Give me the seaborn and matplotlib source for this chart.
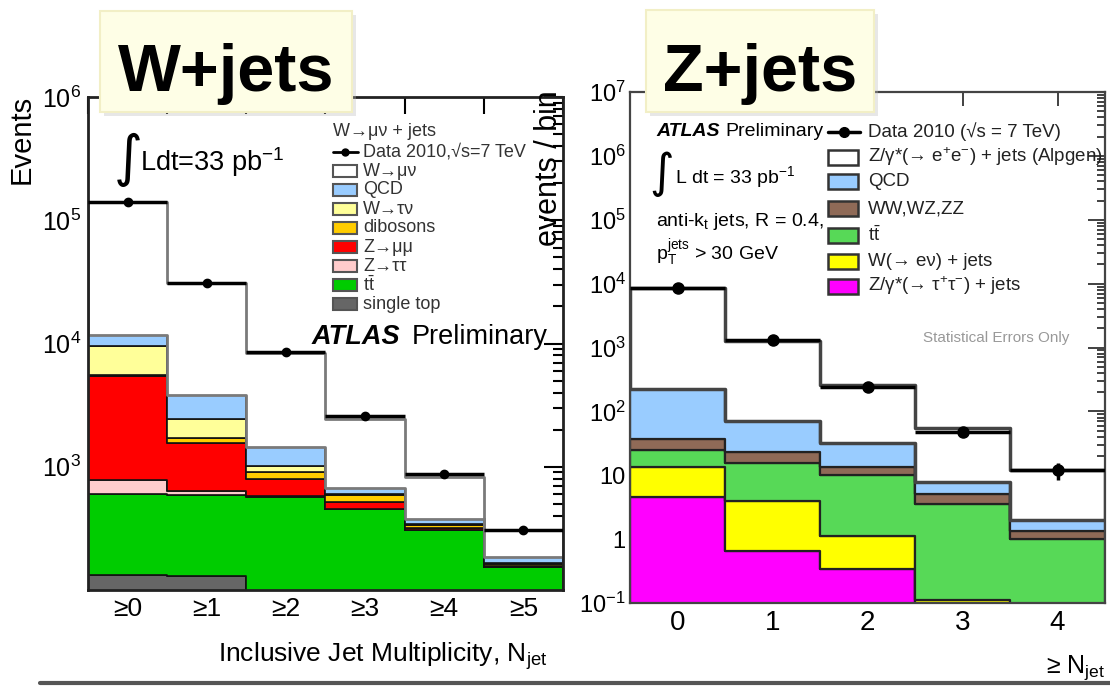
import numpy as np
import pandas as pd
import matplotlib
matplotlib.use("Agg")
import matplotlib.pyplot as plt
import seaborn as sns
from matplotlib.patches import Rectangle
from matplotlib.lines import Line2D
from matplotlib.ticker import FixedLocator, FixedFormatter, NullFormatter, LogLocator

# ---------------- W+jets : inclusive jet multiplicity ----------------
w_bins = [0, 1, 2, 3, 4, 5]
w_tick_labels = ["≥0", "≥1", "≥2", "≥3", "≥4", "≥5"]
w_data = [141000, 31000, 8500, 2560, 870, 305]
w_mu_nu = [128200, 27200, 6850, 1780, 452, 118]
w_qcd = [2300, 1350, 430, 70, 33, 20]
w_tau_nu = [3900, 750, 110, 10, 8, 4]
w_dibosons = [100, 150, 110, 75, 17, 5]
w_z_mumu = [4720, 915, 225, 57, 11, 2]
w_z_tautau = [180, 45, 10, 3, 2, 1]
w_ttbar = [467, 460, 565, 455, 307, 154]
w_single_top = [133, 130, 0, 0, 0, 0]
w_keys = ["wmunu", "qcd", "wtaunu", "diboson", "zmumu", "ztautau", "ttbar", "stop"]
w_labels = ["W→μν", "QCD", "W→τν", "dibosons", "Z→μμ", "Z→ττ", r"t$\bar{\rm t}$", "single top"]
w_colors = ["#ffffff", "#99ccff", "#ffff99", "#ffcc00", "#ff0000", "#ffcccc", "#00cc00", "#666666"]

# ---------------- Z+jets : events per >= N_jet bin ----------------
z_bins = [0, 1, 2, 3, 4]
z_tick_labels = ["0", "1", "2", "3", "4"]
z_data = [8600, 1300, 240, 48, 12]
z_ee = [8275, 1180, 223, 48, 10]
z_qcd = [188, 47, 18.5, 2.7, 0.65]
z_diboson = [12, 7.5, 3.5, 1.5, 0.35]
z_ttbar = [11.5, 11.5, 8.9, 3.5, 1.0]
z_w_enu = [8.9, 3.35, 0.78, 0.11, 0]
z_tautau = [4.6, 0.65, 0.34, 0, 0]
z_keys = ["zee", "qcd", "diboson", "ttbar", "wenu", "ztautau"]
z_labels = [r"Z/γ*(→ e$^{+}$e$^{-}$) + jets (Alpgen)", "QCD", "WW,WZ,ZZ",
            r"t$\bar{\rm t}$", "W(→ eν) + jets", r"Z/γ*(→ τ$^{+}$τ$^{-}$) + jets"]
z_colors = ["#ffffff", "#99ccff", "#8f6a57", "#57d957", "#ffff00", "#ff00ff"]

sns.set_style("white")
plt.rcParams["font.family"] = ["Liberation Sans", "DejaVu Sans"]
plt.rcParams["text.color"] = "black"
plt.rcParams["axes.labelcolor"] = "black"
plt.rcParams["xtick.color"] = "black"
plt.rcParams["ytick.color"] = "black"
plt.rcParams["mathtext.fontset"] = "custom"
plt.rcParams["mathtext.rm"] = "Liberation Sans"
plt.rcParams["mathtext.it"] = "Liberation Sans:italic"
plt.rcParams["mathtext.bf"] = "Liberation Sans:bold"
plt.rcParams["mathtext.sf"] = "Liberation Sans"

W, H = 1110, 690
fig = plt.figure(figsize=(W / 100, H / 100), dpi=100)
fig.patch.set_facecolor("white")


def fx(px):
    return px / W


def fy(py):
    return 1 - py / H


def ftext(px, py, s, **kw):
    return fig.text(fx(px), fy(py), s, **kw)


def draw_stack(ax, bins, comps, keys, colors, edge, lw, top_edge, top_lw):
    rows = []
    for key, vals in zip(keys, comps):
        for b, v in zip(bins, vals):
            rows.append({"bin": b, "events": v, "process": key})
    df = pd.DataFrame(rows)
    ax.set_yscale("log")
    sns.histplot(data=df, x="bin", weights="events", hue="process", hue_order=keys,
                 multiple="stack", discrete=True, element="step", fill=True,
                 palette=dict(zip(keys, colors)), alpha=1, edgecolor=edge,
                 linewidth=lw, legend=False, ax=ax)
    # the topmost (signal) layer carries the total-prediction outline
    for coll in ax.collections:
        fc = coll.get_facecolor()
        if len(fc) and np.allclose(fc[0][:3], 1.0):
            coll.set_edgecolor(top_edge)
            coll.set_linewidth(top_lw)
            coll.set_zorder(coll.get_zorder() + 0.5)
    ax.set_xlabel("")
    ax.set_ylabel("")


# ---------------- left panel ----------------
axL = fig.add_axes([fx(88), 1 - 590 / H, 475 / W, 493 / H])
draw_stack(axL, w_bins,
           [w_mu_nu, w_qcd, w_tau_nu, w_dibosons, w_z_mumu, w_z_tautau, w_ttbar, w_single_top],
           w_keys, w_colors, "#111111", 1.2, "#7a7a7a", 2.0)
axL.errorbar(w_bins, w_data, xerr=0.5, yerr=np.sqrt(w_data), fmt="o", color="black",
             ms=6, elinewidth=2.5, capsize=0, zorder=6)
axL.set_xlim(-0.5, 5.5)
axL.set_ylim(100, 1e6)
axL.xaxis.set_major_locator(FixedLocator(np.arange(-0.5, 6.0, 1.0)))
axL.xaxis.set_major_formatter(NullFormatter())
axL.xaxis.set_minor_locator(FixedLocator(w_bins))
axL.xaxis.set_minor_formatter(FixedFormatter(w_tick_labels))
axL.yaxis.set_major_locator(FixedLocator([1e3, 1e4, 1e5, 1e6]))
axL.yaxis.set_major_formatter(FixedFormatter([r"10$^{3}$", r"10$^{4}$", r"10$^{5}$", r"10$^{6}$"]))
axL.yaxis.set_minor_locator(LogLocator(base=10, subs=np.arange(2, 10) * 1.0, numticks=30))
axL.yaxis.set_minor_formatter(NullFormatter())
axL.tick_params(which="both", direction="in", top=True, right=True, width=1.5)
axL.tick_params(axis="x", which="major", length=12)
axL.tick_params(axis="x", which="minor", length=0, pad=5, labelsize=19)
axL.tick_params(axis="y", which="major", length=14, labelsize=18, pad=5)
axL.tick_params(axis="y", which="minor", length=7)
for sp in axL.spines.values():
    sp.set_linewidth(2)
    sp.set_color("#222222")

# ---------------- right panel ----------------
axR = fig.add_axes([fx(630), 1 - 603 / H, 475 / W, 511 / H])
draw_stack(axR, z_bins,
           [z_ee, z_qcd, z_diboson, z_ttbar, z_w_enu, z_tautau],
           z_keys, z_colors, "#222222", 1.6, "#444444", 2.5)
axR.errorbar(z_bins, z_data, xerr=0.5, yerr=np.sqrt(z_data), fmt="o", color="black",
             ms=8, elinewidth=2.5, capsize=0, zorder=6)
axR.set_xlim(-0.5, 4.5)
axR.set_ylim(0.1, 1e7)
axR.xaxis.set_major_locator(FixedLocator(z_bins))
axR.xaxis.set_major_formatter(FixedFormatter(z_tick_labels))
ydec = [1e-1, 1, 10, 1e2, 1e3, 1e4, 1e5, 1e6, 1e7]
ylab = [r"10$^{-1}$", "1", "10", r"10$^{2}$", r"10$^{3}$", r"10$^{4}$", r"10$^{5}$",
        r"10$^{6}$", r"10$^{7}$"]
axR.yaxis.set_major_locator(FixedLocator(ydec))
axR.yaxis.set_major_formatter(FixedFormatter(ylab))
axR.yaxis.set_minor_locator(LogLocator(base=10, subs=np.arange(2, 10) * 1.0, numticks=30))
axR.yaxis.set_minor_formatter(NullFormatter())
axR.tick_params(which="both", direction="in", top=True, right=True, width=1.3, color="#333333")
axR.tick_params(axis="x", which="major", length=10, pad=5, labelsize=20)
axR.tick_params(axis="y", which="major", length=12, labelsize=17, pad=3)
axR.tick_params(axis="y", which="minor", length=6)
for sp in axR.spines.values():
    sp.set_linewidth(1.6)
    sp.set_color("#444444")

# ---------------- axis titles ----------------
ftext(22, 95, "Events", rotation=90, ha="center", va="top", fontsize=21)
ftext(383, 656, r"Inclusive Jet Multiplicity, N$_{\rm jet}$", ha="center", va="center",
      fontsize=19)
ftext(549, 90, "events / bin", rotation=90, ha="center", va="top", fontsize=22)
ftext(1105, 668, r"≥ N$_{\rm jet}$", ha="right", va="center", fontsize=18)

# ---------------- left panel annotations ----------------
ftext(128, 160, "∫", ha="center", va="center", fontsize=40, family=["DejaVu Sans"])
ftext(140, 162, r"Ldt=33 pb$^{-1}$", ha="left", va="center", fontsize=19.5)
ftext(333, 132, "W→μν + jets", ha="left", va="center", fontsize=13, color="#333333")
fig.add_artist(Line2D([fx(333), fx(358)], [fy(152), fy(152)], color="black", lw=2))
fig.add_artist(Line2D([fx(345)], [fy(152)], marker="o", ms=5, color="black"))
ftext(363, 152, "Data 2010,√s=7 TeV", ha="left", va="center", fontsize=13, color="#333333")
w_rows = [171, 190, 209, 228, 247, 266, 285, 304]
for yrow, lab, col in zip(w_rows, w_labels, w_colors):
    fig.add_artist(Rectangle((fx(333), fy(yrow + 6)), 24 / W, 12 / H, transform=fig.transFigure,
                             facecolor=col, edgecolor="#555555", lw=1.5))
    ftext(363, yrow, lab, ha="left", va="center", fontsize=13, color="#333333")
ftext(312, 337, "ATLAS", ha="left", va="center", fontsize=19.5, weight="bold", style="italic")
ftext(412, 337, "Preliminary", ha="left", va="center", fontsize=19.5)

# ---------------- right panel annotations ----------------
ftext(656, 131, "ATLAS", ha="left", va="center", fontsize=14, weight="bold", style="italic")
ftext(725, 131, "Preliminary", ha="left", va="center", fontsize=14)
ftext(662, 174, "∫", ha="center", va="center", fontsize=34, family=["DejaVu Sans"])
ftext(675, 177, r"L dt = 33 pb$^{-1}$", ha="left", va="center", fontsize=14)
ftext(656, 222, r"anti-k$_{\rm t}$ jets, R = 0.4,", ha="left", va="center", fontsize=14)
ftext(656, 253, r"p$_{\rm T}^{\rm jets}$ > 30 GeV", ha="left", va="center", fontsize=14)
fig.add_artist(Line2D([fx(828), fx(860)], [fy(132), fy(132)], color="black", lw=2.5))
fig.add_artist(Line2D([fx(844)], [fy(132)], marker="o", ms=7, color="black"))
ftext(868, 132, "Data 2010 (√s = 7 TeV)", ha="left", va="center", fontsize=13.5, color="#222222")
z_rows = [157, 182, 209, 235, 261, 286]
for yrow, lab, col in zip(z_rows, z_labels, z_colors):
    fig.add_artist(Rectangle((fx(828), fy(yrow + 7.5)), 30 / W, 15 / H, transform=fig.transFigure,
                             facecolor=col, edgecolor="#333333", lw=1.8))
    ftext(868, yrow, lab, ha="left", va="center", fontsize=13.5, color="#222222")
ftext(923, 338, "Statistical Errors Only", ha="left", va="center", fontsize=11, color="#999999")

# ---------------- title call-outs ----------------
for (x0, x1, y0, y1, txt) in [(100, 352, 11, 112, "W+jets"), (646, 874, 10, 112, "Z+jets")]:
    fig.add_artist(Rectangle((fx(x0 + 4), fy(y1 + 4)), (x1 - x0) / W, (y1 - y0) / H,
                             transform=fig.transFigure, facecolor="#bbbbbb", alpha=0.35,
                             edgecolor="none", zorder=9))
    fig.add_artist(Rectangle((fx(x0), fy(y1)), (x1 - x0) / W, (y1 - y0) / H,
                             transform=fig.transFigure, facecolor="#fefee6",
                             edgecolor="#f2efc6", lw=1.5, zorder=10))
    ftext((x0 + x1) / 2, 91, txt, ha="center", va="baseline", fontsize=48,
          weight="bold", color="black", zorder=11)

# slide rule along the bottom
fig.add_artist(Line2D([fx(40), 1.0], [fy(683), fy(683)], color="#555555", lw=3))

fig.savefig("out.png", dpi=100)
